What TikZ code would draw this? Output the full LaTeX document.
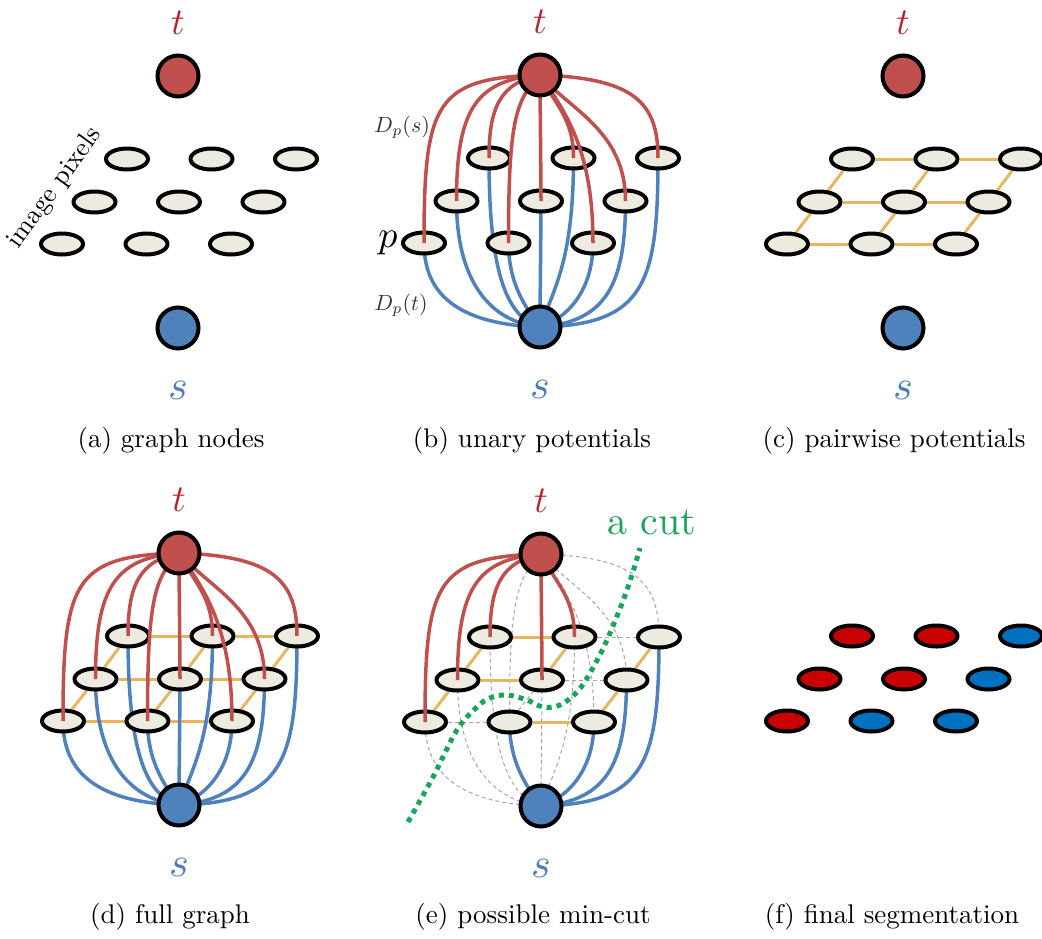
\documentclass[tikz,border=0pt]{standalone}
\usetikzlibrary{shapes.geometric}
\definecolor{pixfill}{RGB}{237,234,223}
\definecolor{tfill}{RGB}{192,80,77}
\definecolor{sfill}{RGB}{79,129,189}
\definecolor{redl}{RGB}{192,80,77}
\definecolor{bluel}{RGB}{79,129,189}
\definecolor{orng}{RGB}{232,182,95}
\definecolor{tlab}{RGB}{185,35,45}
\definecolor{slab}{RGB}{75,125,190}
\definecolor{cutg}{RGB}{25,165,90}
\definecolor{segr}{RGB}{200,0,0}
\definecolor{segb}{RGB}{0,112,192}
\pgfdeclarelayer{l0}\pgfdeclarelayer{l1}\pgfdeclarelayer{l3}\pgfdeclarelayer{l4}
\pgfsetlayers{l0,l1,main,l3,l4}
\tikzset{
 pix/.style={ellipse, draw=black, line width=4pt, fill=pixfill, minimum width=42pt, minimum height=21pt, inner sep=0pt},
 term/.style={circle, draw=black, line width=4pt, minimum size=41pt, inner sep=0pt},
 tnode/.style={term, fill=tfill},
 snode/.style={term, fill=sfill},
 redline/.style={draw=redl, line width=3.5pt},
 blueline/.style={draw=bluel, line width=3.5pt},
 pairline/.style={draw=orng, line width=3pt},
 cutline/.style={draw=black!35, line width=1pt, dash pattern=on 4pt off 3pt},
 tlabel/.style={text=tlab, font=\normalsize, scale=3.8, inner sep=0pt},
 slabel/.style={text=slab, font=\normalsize, scale=4.2, inner sep=0pt},
 capt/.style={font=\normalsize, scale=2.7, inner sep=0pt},
 pixlab/.style={font=\normalsize, scale=2.65, inner sep=0pt},
 dlab/.style={font=\normalsize, scale=2.2, text=black!80, inner sep=0pt},
 plab/.style={font=\normalsize, scale=3.8, inner sep=0pt},
 cutpath/.style={draw=cutg, line width=5pt, dash pattern=on 5pt off 5pt},
 cutlab/.style={text=cutg, font=\normalsize, scale=4, inner sep=0pt}
}
\def\gridpts{11/-51/83,12/33.5/83,13/118/83,21/-83.5/126,22/1/126,23/85.5/126,31/-116/168,32/-31.5/168,33/53/168}
% n / red c1x / red c1y / red c2y / blue c1x / blue c1y / blue c2y / side
\def\linkspec{11/-40/-8/50/-35/10/-110/T,12/15/-30/40/15/40/-100/T,13/95/-3/55/105/2/-125/S,21/-65/-5/90/-50/5/-80/T,22/0/-30/30/0/30/-30/T,23/30/-35/70/65/5/-85/S,31/-105/-3/140/-90/3/-45/T,32/-25/-25/120/-15/20/-40/S,33/28/-40/90/30/10/-45/S}
\def\pairspec{11/12/K,12/13/C,21/22/K,22/23/C,31/32/C,32/33/K,31/21/K,21/11/K,32/22/C,22/12/K,33/23/K,23/13/K}
\newcommand\placegrid[3]{\foreach \n/\dx/\dy in \gridpts {\node[pix] (#1\n) at ({#2+\dx},{-#3-\dy}) {};}}
\newcommand\placeterms[3]{%
 \begin{pgfonlayer}{l4}
 \node[tnode] (#1t) at (#2,-#3) {};
 \node[snode] (#1s) at (#2,{-#3-252}) {};
 \end{pgfonlayer}
 \node[tlabel] (#1tl) at (#2,{-#3+53}) {$t$};
 \node[slabel] (#1sl) at (#2,{-#3-314}) {$s$};}
\newcommand\links[2]{%
 \foreach \n/\pa/\pb/\pc/\qa/\qb/\qc/\sd in \linkspec {%
  \ifnum#2=1
   \if T\sd
    \begin{pgfonlayer}{l3}\draw[redline] (#1t.center) .. controls +(\pa,\pb) and +(0,\pc) .. (#1\n.center);\end{pgfonlayer}
    \begin{pgfonlayer}{l0}\draw[cutline] (#1s.center) .. controls +(\qa,\qb) and +(0,\qc) .. (#1\n.center);\end{pgfonlayer}
   \else
    \begin{pgfonlayer}{l0}\draw[cutline] (#1t.center) .. controls +(\pa,\pb) and +(0,\pc) .. (#1\n.center);\end{pgfonlayer}
    \begin{pgfonlayer}{l1}\draw[blueline] (#1s.center) .. controls +(\qa,\qb) and +(0,\qc) .. (#1\n.center);\end{pgfonlayer}
   \fi
  \else
   \begin{pgfonlayer}{l3}\draw[redline] (#1t.center) .. controls +(\pa,\pb) and +(0,\pc) .. (#1\n.center);\end{pgfonlayer}
   \begin{pgfonlayer}{l1}\draw[blueline] (#1s.center) .. controls +(\qa,\qb) and +(0,\qc) .. (#1\n.center);\end{pgfonlayer}
  \fi}}
\newcommand\pairs[2]{%
 \begin{pgfonlayer}{l0}
 \foreach \ea/\eb/\ek in \pairspec {%
  \ifnum#2=1
   \if C\ek \draw[cutline] (#1\ea) -- (#1\eb); \else \draw[pairline] (#1\ea) -- (#1\eb); \fi
  \else \draw[pairline] (#1\ea) -- (#1\eb); \fi}
 \end{pgfonlayer}}
\begin{document}
\begin{tikzpicture}[x=1pt,y=1pt]
\useasboundingbox (0,0) rectangle (1042,-938);
% (a)
\placegrid{a}{178}{76}
\placeterms{a}{178}{76}
\node[pixlab, rotate=54] (imgpix) at (55,-188) {image pixels};
\node[capt] (capa) at (171,-441) {(a) graph nodes};
% (b)
\placegrid{b}{540}{75}
\placeterms{b}{540}{75}
\links{b}{0}
\node[dlab] (dps) at (402,-127) {$D_p(s)$};
\node[dlab] (dpt) at (401,-305) {$D_p(t)$};
\node[plab] (plab) at (388,-243) {$p$};
\node[capt] (capb) at (532,-441) {(b) unary potentials};
% (c)
\placegrid{c}{903}{76}
\placeterms{c}{903}{76}
\pairs{c}{0}
\node[capt] (capc) at (894,-441) {(c) pairwise potentials};
% (d)
\placegrid{d}{179}{553}
\placeterms{d}{179}{553}
\links{d}{0}
\pairs{d}{0}
\node[capt] (capd) at (170,-917) {(d) full graph};
% (e)
\placegrid{e}{541}{554}
\placeterms{e}{541}{554}
\links{e}{1}
\pairs{e}{1}
\begin{pgfonlayer}{l4}
\draw[cutpath] plot[smooth, tension=0.6] coordinates {(408,-822) (433,-777) (457,-730) (477,-707) (490,-698) (507,-695) (527,-700) (543,-707) (560,-705) (577,-692) (590,-673) (607,-640) (627,-590) (640,-548)};
\end{pgfonlayer}
\node[cutlab] (acut) at (652,-522) {a cut};
\node[capt] (cape) at (533,-917) {(e) possible min-cut};
% (f)
\foreach \n/\dx/\dy/\cl in {11/-51/83/segr,12/33.5/83/segr,13/118/83/segb,21/-83.5/126/segr,22/1/126/segr,23/85.5/126/segb,31/-116/168/segr,32/-31.5/168/segb,33/53/168/segb}
 {\node[pix, fill=\cl] (f\n) at ({903+\dx},{-553-\dy}) {};}
\node[capt] (capf) at (892,-917) {(f) final segmentation};
\end{tikzpicture}
\end{document}
